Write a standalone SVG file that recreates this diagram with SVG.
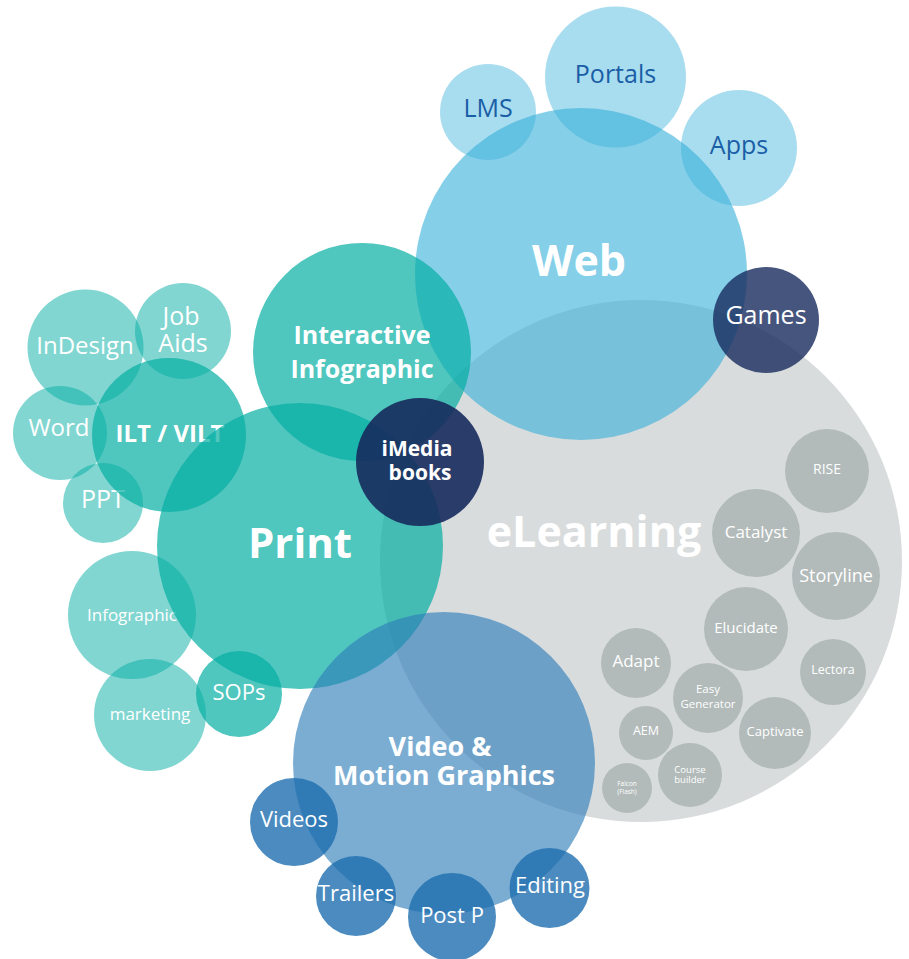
<svg xmlns="http://www.w3.org/2000/svg" width="909" height="959" viewBox="0 0 909 959">
<style>
text{font-family:"Open Sans","Liberation Sans",sans-serif;text-anchor:middle;fill:#fff}
.b{font-weight:700}
.gray{fill:#D9DCDD}
.tool{fill:#B2BBBA}
.web{fill:#35AFDA;fill-opacity:.6}
.lweb{fill:#35AFDA;fill-opacity:.43}
.navy{fill:#162A5C}
.teal{fill:#04AEA3;fill-opacity:.7}
.lteal{fill:#04AEA3;fill-opacity:.5}
.vid{fill:#2E7DB9;fill-opacity:.63}
.dvid{fill:#1E6EAF;fill-opacity:.8}
.dk{fill:#1A5EA6}
</style>
<rect width="909" height="959" fill="#fff"/>
<g id="elearning"><circle class="gray" cx="641" cy="561" r="261"/><text class="b" x="594" y="547" font-size="43">eLearning</text></g>
<g id="rise"><circle class="tool" cx="827" cy="471" r="42"/><text x="827" y="474" font-size="14">RISE</text></g>
<g id="catalyst"><circle class="tool" cx="756" cy="533" r="44"/><text x="756" y="538" font-size="17">Catalyst</text></g>
<g id="storyline"><circle class="tool" cx="836" cy="576" r="44"/><text x="836" y="582" font-size="18">Storyline</text></g>
<g id="elucidate"><circle class="tool" cx="746" cy="629" r="42"/><text x="746" y="633" font-size="15">Elucidate</text></g>
<g id="lectora"><circle class="tool" cx="833" cy="672" r="33"/><text x="833" y="674" font-size="12.5">Lectora</text></g>
<g id="adapt"><circle class="tool" cx="636" cy="663" r="35"/><text x="636" y="667" font-size="17">Adapt</text></g>
<g id="easygen"><circle class="tool" cx="708" cy="698" r="35"/><text x="708" y="693" font-size="11.5">Easy</text><text x="708" y="708" font-size="11.5">Generator</text></g>
<g id="captivate"><circle class="tool" cx="775" cy="733" r="36"/><text x="775" y="736" font-size="13">Captivate</text></g>
<g id="aem"><circle class="tool" cx="646" cy="733" r="27"/><text x="646" y="735" font-size="12.5">AEM</text></g>
<g id="coursebuilder"><circle class="tool" cx="690" cy="775" r="32"/><text x="690" y="773" font-size="9.5">Course</text><text x="690" y="783" font-size="9.5">builder</text></g>
<g id="falcon"><circle class="tool" cx="627" cy="788" r="25"/><text x="627" y="786" font-size="6.5">Falcon</text><text x="627" y="794" font-size="6.5">(Flash)</text></g>
<g id="web"><circle class="web" cx="581" cy="274" r="166"/><text class="b" x="579" y="276" font-size="43">Web</text></g>
<g id="lms"><circle class="lweb" cx="488" cy="112" r="48"/><text class="dk" x="488" y="117" font-size="25">LMS</text></g>
<g id="portals"><circle class="lweb" cx="615.5" cy="77" r="70.5"/><text class="dk" x="615.5" y="83" font-size="25">Portals</text></g>
<g id="apps"><circle class="lweb" cx="739" cy="148" r="58"/><text class="dk" x="739" y="154" font-size="25">Apps</text></g>
<g id="games"><circle class="navy" fill-opacity=".8" cx="766" cy="320" r="53"/><text x="766" y="324" font-size="25">Games</text></g>
<g id="indesign"><circle class="lteal" cx="85.5" cy="347.5" r="58"/><text x="85" y="354" font-size="24">InDesign</text></g>
<g id="jobaids"><circle class="lteal" cx="183" cy="331" r="48"/><text x="181" y="325" font-size="25">Job</text><text x="183" y="352" font-size="25">Aids</text></g>
<g id="word"><circle class="lteal" cx="60" cy="433" r="47"/><text x="59" y="436" font-size="24">Word</text></g>
<g id="ppt"><circle class="lteal" cx="103" cy="503" r="40"/><text x="103" y="508" font-size="25">PPT</text></g>
<g id="infographic"><circle class="lteal" cx="132" cy="615" r="64"/><text x="132" y="621" font-size="17">Infographic</text></g>
<g id="marketing"><circle class="lteal" cx="150" cy="715" r="56"/><text x="150" y="720" font-size="17">marketing</text></g>
<g id="sops"><circle class="teal" cx="239" cy="694" r="43"/><text x="239" y="700" font-size="22">SOPs</text></g>
<g id="ilt"><circle class="teal" cx="169" cy="435" r="77"/><text class="b" x="170" y="442" font-size="24">ILT / VILT</text></g>
<g id="print"><circle class="teal" cx="300" cy="546" r="143"/><text class="b" x="300" y="558" font-size="42">Print</text></g>
<g id="interactive"><circle class="teal" cx="362" cy="352" r="109"/><text class="b" x="362" y="344" font-size="25">Interactive</text><text class="b" x="362" y="378" font-size="25">Infographic</text></g>
<g id="imedia"><circle class="navy" fill-opacity=".9" cx="420" cy="462" r="64"/><text class="b" x="417" y="456" font-size="21">iMedia</text><text class="b" x="420" y="480" font-size="21">books</text></g>
<g id="video"><circle class="vid" cx="444" cy="763" r="151"/><text class="b" x="440" y="756" font-size="27">Video &amp;</text><text class="b" x="444" y="785" font-size="27">Motion Graphics</text></g>
<g id="videos"><circle class="dvid" cx="294" cy="822" r="44"/><text x="294" y="827" font-size="22">Videos</text></g>
<g id="trailers"><circle class="dvid" cx="356" cy="896" r="40"/><text x="356" y="901" font-size="22">Trailers</text></g>
<g id="postp"><circle class="dvid" cx="452" cy="917" r="44"/><text x="452" y="923" font-size="22">Post P</text></g>
<g id="editing"><circle class="dvid" cx="549.5" cy="888" r="40"/><text x="550" y="893" font-size="22">Editing</text></g>
<g id="connectors"></g>
</svg>
